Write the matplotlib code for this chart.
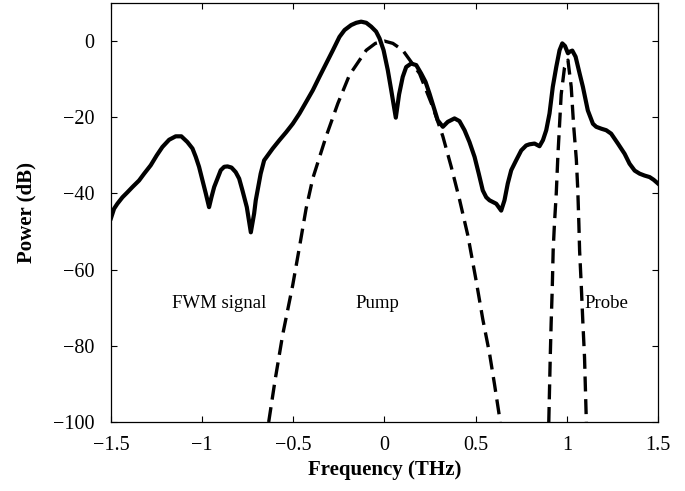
import matplotlib
matplotlib.use("Agg")
import matplotlib.pyplot as plt

plt.rcParams['font.family'] = ['Liberation Serif', 'DejaVu Serif']

# measured output spectrum (solid)
f_out = [-1.5, -1.483, -1.465, -1.437, -1.41, -1.382, -1.346, -1.318, -1.282,
         -1.249, -1.218, -1.181, -1.145, -1.114, -1.081, -1.053, -1.035, -1.017,
         -0.998, -0.98, -0.962, -0.949, -0.934, -0.898, -0.879, -0.861, -0.839,
         -0.816, -0.797, -0.779, -0.755, -0.733, -0.715, -0.706, -0.679, -0.66,
         -0.613, -0.576, -0.539, -0.503, -0.466, -0.43, -0.393, -0.357, -0.32,
         -0.283, -0.247, -0.219, -0.183, -0.155, -0.128, -0.1, -0.073, -0.046,
         -0.027, -0.005, 0.018, 0.037, 0.062, 0.08, 0.1, 0.119, 0.146, 0.174,
         0.201, 0.225, 0.247, 0.292, 0.32, 0.347, 0.384, 0.411, 0.439, 0.466,
         0.494, 0.517, 0.539, 0.558, 0.576, 0.613, 0.64, 0.658, 0.676, 0.695,
         0.722, 0.75, 0.777, 0.795, 0.823, 0.85, 0.869, 0.887, 0.905, 0.923,
         0.942, 0.96, 0.975, 0.99, 1.006, 1.015, 1.03, 1.048, 1.07, 1.088,
         1.115, 1.143, 1.161, 1.189, 1.216, 1.243, 1.28, 1.317, 1.344, 1.372,
         1.399, 1.426, 1.454, 1.476, 1.5]
p_out = [-46.5, -44.0, -42.7, -41.0, -39.7, -38.3, -36.6, -34.8, -32.6,
         -30.0, -27.8, -25.9, -25.0, -25.0, -26.5, -28.2, -30.4, -33.0,
         -36.6, -40.0, -43.6, -41.0, -38.3, -33.9, -33.0, -32.9, -33.2,
         -34.4, -36.1, -39.2, -43.6, -50.2, -45.3, -41.8, -34.8, -31.3,
         -28.2, -26.0, -23.9, -21.7, -19.0, -16.0, -12.9, -9.4, -5.9,
         -2.4, 1.1, 2.9, 4.2, 4.8, 5.1, 4.8, 3.8, 2.5,
         0.7, -2.4, -7.6, -12.9, -20.1, -14.0, -9.4, -6.8, -5.9, -6.3,
         -8.5, -10.7, -13.8, -20.8, -22.5, -21.2, -20.3, -21.0, -23.4, -26.5,
         -30.4, -34.8, -39.2, -41.0, -41.8, -42.7, -44.5, -41.8, -37.4, -33.9,
         -31.3, -28.7, -27.4, -27.1, -26.9, -27.6, -26.0, -23.4, -19.0, -12.0,
         -6.8, -2.4, -0.6, -1.3, -3.2, -2.8, -2.5, -4.1, -8.5, -12.0,
         -18.2, -21.7, -22.5, -23.0, -23.4, -24.3, -26.9, -29.6, -32.2, -34.0,
         -34.8, -35.3, -35.7, -36.4, -37.4]

# input pump pulse (dashed)
f_pump = [-0.635, -0.6, -0.558, -0.503, -0.466, -0.43, -0.393, -0.32, -0.256,
          -0.192, -0.1, -0.05, 0.0, 0.046, 0.1, 0.192, 0.265, 0.32, 0.366,
          0.411, 0.457, 0.503, 0.539, 0.576, 0.603, 0.635]
p_pump = [-100, -89, -77, -64, -54, -44, -36, -25, -16.4,
          -8.9, -2.4, -0.6, 0.0, -0.6, -2.4, -8.5, -17.3, -25, -33,
          -41.5, -51, -63, -73, -82, -90, -100]

# input probe pulse (dashed)
f_probe = [0.901, 0.909, 0.914, 0.92, 0.925, 0.932, 0.942, 0.951, 0.96, 0.969,
           0.987, 1.006, 1.024, 1.037, 1.052, 1.06, 1.066, 1.07, 1.079, 1.088,
           1.097, 1.107]
p_probe = [-100, -83, -74, -65, -55, -48, -40, -30, -22, -14,
           -7, -5, -12, -22, -31, -39, -48, -55, -64, -74,
           -83, -100]

fig = plt.figure(figsize=(6.85, 4.91), dpi=100)
ax = fig.add_axes([0.162, 0.1405, 0.7986, 0.8534])

ax.plot(f_out, p_out, color='black', lw=3.0, solid_joinstyle='round')
ax.plot(f_pump, p_pump, color='black', lw=2.4, linestyle=(0, (4.5, 2.3)))
ax.plot(f_probe, p_probe, color='black', lw=2.4, linestyle=(0, (4.5, 2.3)))

ax.text(-0.905, -69, 'FWM signal', fontsize=13.5, ha='center', va='center')
ax.text(-0.04, -69, 'Pump', fontsize=13.5, ha='center', va='center')
ax.text(1.215, -69, 'Probe', fontsize=13.5, ha='center', va='center')

ax.set_xlim(-1.5, 1.5)
ax.set_ylim(-100, 10)
ax.set_xticks([-1.5, -1, -0.5, 0, 0.5, 1, 1.5])
ax.set_xticklabels(['\u22121.5', '\u22121', '\u22120.5', '0', '0.5', '1', '1.5'])
ax.set_yticks([-100, -80, -60, -40, -20, 0])
ax.set_yticklabels(['\u2212100', '\u221280', '\u221260', '\u221240', '\u221220', '0'])
ax.tick_params(direction='in', top=True, right=True, length=4, width=0.8,
               labelsize=14.5)
ax.tick_params(axis='x', pad=10)
ax.tick_params(axis='y', pad=12)
for s in ax.spines.values():
    s.set_linewidth(0.9)

ax.set_xlabel('Frequency (THz)', fontsize=15, fontweight='bold', labelpad=4)
ax.set_ylabel('Power (dB)', fontsize=15, fontweight='bold', labelpad=12)

fig.savefig('out.png', dpi=100)
